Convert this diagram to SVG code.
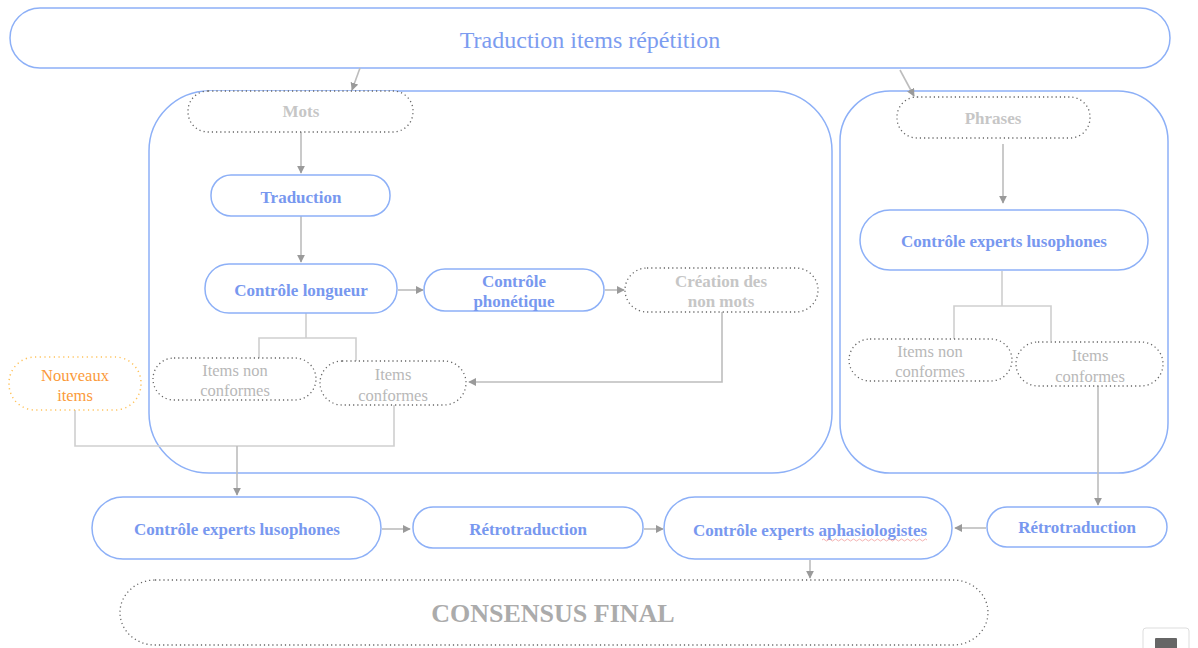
<svg xmlns="http://www.w3.org/2000/svg" width="1198" height="648" viewBox="0 0 1198 648">
<style>
.b{fill:#fff;stroke:#8db0f7;stroke-width:1.5}
.c{fill:none;stroke:#8db0f7;stroke-width:1.5}
.d{fill:#fff;stroke:#666;stroke-width:1.3;stroke-dasharray:1.2 3}
.o{fill:#fff;stroke:#ffc25a;stroke-width:1.5;stroke-dasharray:1.2 3.5}
.t{font-family:"Liberation Serif",serif;font-weight:bold;font-size:17px;fill:#7898ef;text-anchor:middle}
.g{font-family:"Liberation Serif",serif;font-weight:bold;font-size:17px;fill:#c6c6c6;text-anchor:middle}
.n{font-family:"Liberation Serif",serif;font-size:16.5px;fill:#b8b8b8;text-anchor:middle}
.l{fill:none;stroke:#cfcfcf;stroke-width:1.6}
.a{fill:none;stroke:#bdbdbd;stroke-width:1.6;marker-end:url(#ah)}
</style>
<defs>
<marker id="ah" viewBox="0 0 10 10" refX="9" refY="5" markerWidth="8" markerHeight="8" markerUnits="userSpaceOnUse" orient="auto"><path d="M0,0 L10,5 L0,10 z" fill="#9a9a9a"/></marker>
</defs>
<rect width="1198" height="648" fill="#fff"/>
<g id="top"><rect class="b" x="10" y="8" width="1160" height="60" rx="30"/><text x="590" y="48" style="font-family:'Liberation Serif',serif;font-size:24px;fill:#7c9cf0;text-anchor:middle">Traduction items répétition</text></g>
<g id="groupe-mots"><rect class="c" x="149" y="91" width="683" height="382" rx="60"/></g>
<g id="groupe-phrases"><rect class="c" x="840" y="91" width="328" height="382" rx="50"/></g>
<g id="connectors">
<path class="a" d="M360,68 L352,90"/>
<path class="a" d="M900,70 L914,96"/>
<path class="a" d="M301,132 V173"/>
<path class="a" d="M301,216 V262"/>
<path class="a" d="M398,290 H423"/>
<path class="a" d="M605,290 H624"/>
<path class="a" d="M722,312 V382 H469"/>
<path class="l" d="M306,313 V338 M259,358 V338 H356 V363"/>
<path class="l" d="M75,410 V446 H394 V405"/>
<path class="a" d="M237,446 V495"/>
<path class="a" d="M382,529 H410"/>
<path class="a" d="M644,529 H663"/>
<path class="a" d="M986,528 H955"/>
<path class="a" d="M1098,386 V505"/>
<path class="a" d="M810,560 V578"/>
<path class="a" d="M1003,144 V203"/>
<path class="l" d="M1002,271 V306 M954,339 V306 H1051 V341"/>
</g>
<g id="mots"><rect class="d" x="188" y="91" width="225" height="41" rx="20"/><text class="g" x="301" y="117">Mots</text></g>
<g id="traduction"><rect class="b" x="211" y="175" width="179" height="41" rx="20"/><text class="t" x="301" y="203">Traduction</text></g>
<g id="controle-longueur"><rect class="b" x="205" y="264" width="192" height="49" rx="24"/><text class="t" x="301" y="296">Contrôle longueur</text></g>
<g id="controle-phonetique"><rect class="b" x="424" y="269" width="180" height="42" rx="21"/><text class="t" x="514" y="287">Contrôle</text><text class="t" x="514" y="307">phonétique</text></g>
<g id="creation-non-mots"><rect class="d" x="625" y="268" width="193" height="44" rx="22"/><text class="g" x="721" y="287">Création des</text><text class="g" x="721" y="307">non mots</text></g>
<g id="items-non-conformes-1"><rect class="d" x="153" y="358" width="163" height="42" rx="21"/><text class="n" x="235" y="376">Items non</text><text class="n" x="235" y="396">conformes</text></g>
<g id="items-conformes-1"><rect class="d" x="320" y="361" width="146" height="44" rx="22"/><text class="n" x="393" y="380">Items</text><text class="n" x="393" y="401">conformes</text></g>
<g id="nouveaux-items"><rect class="o" x="9" y="357" width="132" height="53" rx="26"/><text class="n" x="75" y="381" style="fill:#fb9a3a">Nouveaux</text><text class="n" x="75" y="401" style="fill:#fb9a3a">items</text></g>
<g id="phrases"><rect class="d" x="897" y="97" width="193" height="41" rx="20"/><text class="g" x="993" y="124">Phrases</text></g>
<g id="controle-experts-lusophones-2"><rect class="b" x="860" y="210" width="288" height="60" rx="30"/><text class="t" x="1004" y="247">Contrôle experts lusophones</text></g>
<g id="items-non-conformes-2"><rect class="d" x="849" y="339" width="163" height="42" rx="21"/><text class="n" x="930" y="357">Items non</text><text class="n" x="930" y="377">conformes</text></g>
<g id="items-conformes-2"><rect class="d" x="1016" y="342" width="147" height="44" rx="22"/><text class="n" x="1090" y="361">Items</text><text class="n" x="1090" y="382">conformes</text></g>
<g id="controle-experts-lusophones"><rect class="b" x="92" y="497" width="289" height="62" rx="31"/><text class="t" x="237" y="535">Contrôle experts lusophones</text></g>
<g id="retrotraduction-1"><rect class="b" x="413" y="507" width="230" height="41" rx="20"/><text class="t" x="528" y="535">Rétrotraduction</text></g>
<g id="controle-experts-aphasiologistes"><rect class="b" x="664" y="497" width="288" height="62" rx="31"/><text class="t" x="810" y="536">Contrôle experts aphasiologistes</text><path d="M822,540 q1.5,-2 3,0 t3,0 t3,0 t3,0 t3,0 t3,0 t3,0 t3,0 t3,0 t3,0 t3,0 t3,0 t3,0 t3,0 t3,0 t3,0 t3,0 t3,0 t3,0 t3,0 t3,0 t3,0 t3,0 t3,0 t3,0 t3,0 t3,0 t3,0 t3,0 t3,0 t3,0 t3,0 t3,0 t3,0 t3,0" fill="none" stroke="#f0a0a0" stroke-width="0.8"/></g>
<g id="retrotraduction-2"><rect class="b" x="987" y="507" width="180" height="40" rx="20"/><text class="t" x="1077" y="533">Rétrotraduction</text></g>
<g id="consensus-final"><rect class="d" x="120" y="580" width="868" height="65" rx="35"/><text x="553" y="622" style="font-family:'Liberation Serif',serif;font-weight:bold;font-size:26px;fill:#ababab;text-anchor:middle">CONSENSUS FINAL</text></g>
<rect x="1143" y="628" width="46" height="24" rx="3" fill="#fff" stroke="#ddd"/>
<rect x="1155" y="638" width="22" height="12" rx="1" fill="#666"/>
</svg>
